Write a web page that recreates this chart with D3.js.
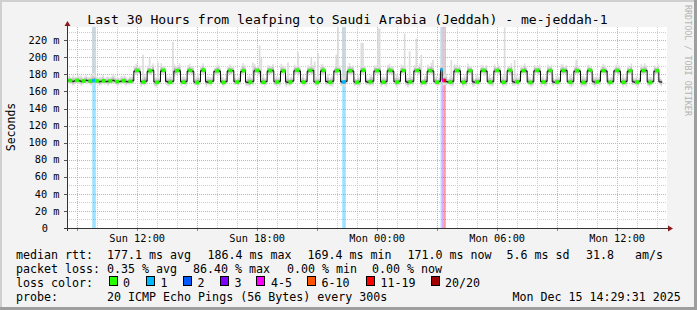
<!DOCTYPE html>
<html><head><meta charset="utf-8">
<script src="https://cdn.jsdelivr.net/npm/d3@7"></script>
<style>body{margin:0;background:#fff}svg{display:block}text{font-family:"DejaVu Sans Mono",monospace;fill:#000}</style>
</head><body><svg id="c" width="697" height="310"></svg>
<script>
// ---------- data ----------
const median = [
172.5,172.8,172.0,171.6,172.3,172.9,173.1,172.4,171.8,172.2,
172.6,173.0,172.7,172.1,171.9,172.5,172.8,172.3,171.7,171.4,
171.9,172.4,172.0,171.5,171.8,172.2,172.6,172.9,172.3,171.6,
171.2,171.5,172.0,172.4,172.1,171.7,171.3,171.8,172.2,172.5,
183.8,184.5,184.0,183.2,171.4,170.9,171.6,172.0,
183.5,184.2,183.9,184.6,171.2,170.6,171.0,171.5,
184.0,184.8,183.6,171.8,171.1,170.7,171.3,171.9,
183.7,184.3,184.9,184.1,171.5,170.8,171.2,171.7,
183.9,184.6,184.2,183.5,170.9,170.4,171.1,171.6,
184.2,185.0,184.4,171.3,170.8,171.0,171.4,172.0,
183.6,184.1,184.7,183.8,171.2,170.5,170.9,171.5,
184.0,184.5,183.9,184.3,171.6,171.0,171.3,171.8,
183.4,184.2,184.8,171.0,170.6,170.9,171.4,171.7,
184.1,184.6,184.0,183.7,171.3,170.7,171.1,171.6,
183.8,184.4,184.9,184.2,171.5,170.9,171.2,171.8,
183.5,184.0,184.6,171.2,170.6,171.0,171.5,172.1,
184.2,184.8,184.3,183.9,171.4,170.8,171.3,171.7,
183.7,184.5,184.1,184.6,171.1,170.5,170.9,171.4,
184.0,184.7,184.2,171.6,171.0,170.7,171.2,171.9,
183.9,184.4,185.0,184.3,171.3,170.9,171.4,171.8,
183.6,184.2,184.6,183.8,171.0,170.6,171.1,171.5,
184.1,184.8,184.4,171.4,170.8,171.2,171.6,172.0,
183.8,184.3,184.9,184.0,171.2,170.7,171.0,171.6,
184.2,184.6,184.1,183.7,171.5,170.9,171.3,171.9,
183.5,184.4,184.8,171.3,170.7,171.1,171.4,171.8,
184.0,184.5,184.2,184.6,171.1,170.6,171.0,171.5,
183.7,184.3,184.7,183.9,171.4,170.8,171.2,171.7,
185.5,173.0,172.8,171.6,171.0,170.9,171.3,171.8,
183.9,184.4,184.8,184.1,171.2,170.6,171.1,171.5,
183.6,184.2,184.7,171.3,170.8,171.0,171.4,171.9,
184.0,184.6,184.3,183.8,171.5,170.9,171.2,171.7,
183.8,184.5,184.9,184.2,171.1,170.7,171.0,171.6,
184.2,184.7,184.1,171.4,170.8,171.1,171.5,172.0,
183.5,184.3,184.8,184.0,171.2,170.6,170.9,171.4,
184.1,184.6,184.2,183.7,171.6,171.0,171.3,171.8,
183.7,184.4,184.9,171.2,170.7,171.0,171.5,171.9,
184.0,184.5,184.1,184.6,171.3,170.8,171.2,171.7,
183.6,184.2,184.7,183.9,171.0,170.5,170.9,171.5,
184.2,184.8,184.3,171.5,170.9,171.1,171.6,172.0,
183.8,184.3,184.6,184.0,171.3,170.7,171.0,171.6,
184.1,184.5,184.0,183.6,171.1,170.6,171.2,171.7,
183.5,184.2,184.8,171.4,170.8,171.0,171.3,171.9,
183.9,184.4,184.1,184.5,171.2,170.6,171.0,171.5,
183.7,184.3,184.0,171.3,171.0,null,null,null
];
const smokeUp = [
5,6,4,7,5,4,6,5,7,4, 5,6,4,5,7,9,8,5,4,6, 5,7,4,5,6,4,5,7,6,4, 5,4,6,5,7,5,4,6,5,8,
6,8,5,7,4,6,9,5,7,6, 4,8,5,6,7,5,9,4,6,8, 5,7,6,4,8,5,6,9,5,7, 6,4,7,8,5,6,4,7,9,5,
6,8,4,5,7,6,5,8,4,6, 7,5,9,6,4,8,5,7,6,5, 8,4,6,7,5,9,6,4,7,8, 5,6,8,4,7,5,6,9,5,4,
7,6,5,8,4,7,6,5,9,6, 4,7,8,5,6,4,7,5,8,6, 5,9,4,6,7,5,8,6,4,7, 6,5,8,7,4,6,9,5,6,7,
4,8,5,6,7,5,4,8,6,9, 5,7,6,4,8,5,7,6,5,8, 4,6,9,5,7,6,4,8,5,7, 6,5,7,8,4,6,5,9,7,5,
8,6,4,7,5,9,6,5,7,4, 6,8,5,4,7,6,8,5,9,6, 5,7,4,8,6,5,7,9,4,6, 7,5,8,6,4,7,5,6,8,5,
9,6,5,7,4,8,6,5,7,6, 4,7,6,9,5,6,8,4,7,5, 6,8,5,7,6,4,9,5,6,8, 5,6,7,4,8,5,7,6,4,9,
7,5,6,8,5,7,4,6,8,5, 6,9,4,7,6,5,8,7,5,6, 4,7,8,5,6,9,5,4,7,8, 6,5,7,6,4,8,6,7,5,9,
5,8,6,4,7,5,6,8,4,7, 7,6,5,9,5,6,7,4,8,6, 5,7,4,6,8,5,9,6,5,7, 6,4,7,5,8,6,4,0,0,0
];
const smokeDown = [
3,4,3,5,4,3,4,3,5,4, 3,4,3,4,5,4,3,4,3,5, 4,3,4,3,5,4,3,4,3,4, 5,3,4,3,4,5,3,4,3,4,
4,5,3,4,6,3,5,4,3,5, 4,3,5,6,4,3,4,5,3,4, 5,4,3,4,6,5,3,4,5,3, 4,6,5,3,4,5,4,3,6,4,
3,5,4,6,3,4,5,3,4,5, 6,4,3,5,4,3,6,4,5,3, 4,3,5,4,6,4,3,5,4,6, 3,5,4,3,5,6,4,3,5,4,
5,4,6,3,4,5,3,6,4,3, 4,6,3,5,4,3,5,4,6,5, 3,4,5,4,6,3,4,5,3,4, 5,3,4,6,4,5,3,4,5,6,
4,5,3,4,5,4,6,3,4,5, 6,4,5,3,4,6,4,5,3,4, 3,5,4,6,3,4,5,4,6,3, 4,6,3,5,4,5,3,6,4,5,
5,3,4,5,6,4,3,5,4,3, 4,5,6,3,4,5,4,3,5,6, 3,4,5,4,3,6,5,4,3,4, 5,6,4,3,5,4,3,6,4,5,
4,3,5,6,4,3,5,4,6,3, 6,4,3,4,5,6,4,3,5,4, 3,5,4,5,3,4,6,5,4,3, 5,4,6,3,4,5,3,4,6,5,
4,3,5,4,6,3,5,6,4,3, 6,5,3,4,5,4,3,5,4,6, 3,4,6,5,3,4,5,3,6,4, 5,6,4,3,5,4,6,4,3,5,
4,3,5,6,4,5,3,4,5,3, 6,4,3,5,4,6,4,5,3,4, 3,5,6,4,3,5,4,3,5,6, 4,3,5,4,6,3,5,0,0,0
];
const spikeIndex = [15,16,45,49,54,63,80,97,111,115,116,132,138,146,148,150,161,162,165,166,176,177,186,187,202,205,209,212,219,224,225,226,230,262,268,305];
const spikeMax   = [235,235,203,199,194,218,189,189,194,214,199,194,206,199,195,205,203,235,235,235,217,217,234,234,228,207,222,203,197,235,235,235,197,235,197,197];
const lossIndex = [15,16,165,166,224,225,226];
const lossPings = [1,1,1,1,1,5,15];
const lossLabels = ["0","1","2","3","4-5","6-10","11-19","20/20"];
const lossColors = ["#26ff00","#00b8ff","#0059ff","#7e00ff","#ff00ff","#ff5500","#ff0000","#a10000"];
const yTicks = [0,20,40,60,80,100,120,140,160,180,200,220];
const yMinor = [10,30,50,70,90,110,130,150,170,190,210,230];
const legendRtt = ["177.1 ms avg","186.4 ms max","169.4 ms min","171.0 ms now","5.6 ms sd","31.8","am/s"];
const legendLoss = ["0.35 % avg","86.40 % max","0.00 % min","0.00 % now"];

// ---------- layout ----------
const svg = d3.select("#c");
const L=67,R=667,T=27,B=228;
const t0 = new Date(2025,11,14,8,29,31), t1 = new Date(2025,11,15,14,29,31);
const x = d3.scaleTime().domain([t0,t1]).range([L,R]);
const y = d3.scaleLinear().domain([0,235.5]).range([B,T]);
const sampleT = i => new Date(2025,11,14,8,30,i*300);
const sx = i => x(sampleT(i));
const stepW = sx(1)-sx(0);
const lossIdx = p => p===0?0:p===1?1:p===2?2:p===3?3:p<=5?4:p<=10?5:p<=19?6:7;

// background & frame
svg.append("rect").attr("width",697).attr("height",310).attr("fill","#f3f3f3");
svg.append("rect").attr("x",0).attr("y",0).attr("width",697).attr("height",2).attr("fill","#cfcfcf");
svg.append("rect").attr("x",0).attr("y",0).attr("width",2).attr("height",310).attr("fill","#cfcfcf");
svg.append("rect").attr("x",694).attr("y",0).attr("width",3).attr("height",310).attr("fill","#9e9e9e");
svg.append("rect").attr("x",0).attr("y",307).attr("width",697).attr("height",3).attr("fill","#9e9e9e");
svg.append("rect").attr("x",L).attr("y",T).attr("width",R-L).attr("height",B-T).attr("fill","#fff");

// grid
const g = svg.append("g").attr("shape-rendering","crispEdges");
yMinor.forEach(v=>{const yy=Math.round(y(v))+0.5;
  g.append("line").attr("x1",L).attr("x2",R).attr("y1",yy).attr("y2",yy).attr("stroke","#cdcdcd").attr("stroke-dasharray","1,1");});
const hours = d3.timeHour.range(t0,t1);
hours.forEach(h=>{ if(h.getHours()%3!==0){const xx=Math.round(x(h))+0.5;
  g.append("line").attr("x1",xx).attr("x2",xx).attr("y1",T).attr("y2",B).attr("stroke","#cdcdcd").attr("stroke-dasharray","1,1");}});
yTicks.slice(1).forEach(v=>{const yy=Math.round(y(v))+0.5;
  g.append("line").attr("x1",L).attr("x2",R).attr("y1",yy).attr("y2",yy).attr("stroke","#f2a0a0").attr("stroke-dasharray","1,1");
  g.append("line").attr("x1",L-3).attr("x2",L).attr("y1",yy).attr("y2",yy).attr("stroke","#555");});
hours.forEach(h=>{ if(h.getHours()%3===0){const xx=Math.round(x(h))+0.5;
  g.append("line").attr("x1",xx).attr("x2",xx).attr("y1",T).attr("y2",B).attr("stroke","#f2a0a0").attr("stroke-dasharray","1,1");
  g.append("line").attr("x1",xx).attr("x2",xx).attr("y1",B).attr("y2",B+3).attr("stroke","#f06060");}});

// loss bars
lossIndex.forEach((i,k)=>{
  svg.append("rect").attr("x",sx(i)).attr("y",T).attr("width",stepW+0.4).attr("height",B-T)
    .attr("fill",lossColors[lossIdx(lossPings[k])]).attr("opacity",0.35);
});

// spikes
spikeIndex.forEach((i,k)=>{
  svg.append("rect").attr("x",sx(i)).attr("width",stepW)
    .attr("y",y(spikeMax[k])).attr("height",y(median[i])-y(spikeMax[k])).attr("fill","#d6d6d6").attr("opacity",0.85);
});

// smoke
const pts = median.map((v,i)=>({i,v,up:smokeUp[i],dn:smokeDown[i]})).filter(d=>d.v!=null);
const lastP = pts[pts.length-1];
const ptsExt = pts.concat([{i:lastP.i+1,v:lastP.v,up:lastP.up,dn:lastP.dn}]);
const band = f => d3.area().curve(d3.curveStepAfter).x(d=>sx(d.i)).y0(d=>y(d.v-d.dn*f)).y1(d=>y(d.v+d.up*f));
svg.append("path").datum(ptsExt).attr("d",band(1)).attr("fill","#e0e0e0");
svg.append("path").datum(ptsExt).attr("d",band(0.55)).attr("fill","#c2c2c2");
svg.append("path").datum(ptsExt).attr("d",band(0.25)).attr("fill","#9a9a9a");

// median line
svg.append("path").datum(ptsExt)
  .attr("d",d3.line().curve(d3.curveStepAfter).x(d=>sx(d.i)).y(d=>y(d.v)))
  .attr("fill","none").attr("stroke","#111").attr("stroke-width",1);
// loss-coloured median marks
pts.forEach(d=>{
  const li = lossIndex.indexOf(d.i);
  if(li>=0){
    svg.append("rect").attr("x",sx(d.i)).attr("y",y(d.v)-1.75).attr("width",stepW+0.5).attr("height",3.5)
      .attr("fill",lossColors[lossIdx(lossPings[li])]);
  } else if(d.i%4===1){
    svg.append("rect").attr("x",sx(d.i)-0.5).attr("y",y(d.v)-1.75).attr("width",4).attr("height",3.5).attr("fill",lossColors[0]);
  }
});

// axes
const ax = svg.append("g").attr("shape-rendering","crispEdges");
ax.append("line").attr("x1",L+0.5).attr("x2",L+0.5).attr("y1",B+3).attr("y2",T-3).attr("stroke","#333");
ax.append("line").attr("x1",L-3).attr("x2",R+2).attr("y1",B+0.5).attr("y2",B+0.5).attr("stroke","#333");
svg.append("path").attr("d",`M${L-2.5},${T-1}L${L+0.5},${T-6}L${L+3.5},${T-1}Z`).attr("fill","#8b1a1a");
svg.append("path").attr("d",`M${R+1},${B-2.5}L${R+6},${B+0.5}L${R+1},${B+3.5}Z`).attr("fill","#8b1a1a");

// y labels
yTicks.forEach(v=>{
  svg.append("text").attr("x",v===0?48:59.5).attr("y",y(v)+3.7).attr("text-anchor","end")
    .attr("font-size","10.3px").text(v===0?"0":v+" m");
});
// x labels
hours.filter(h=>h.getHours()%6===0).forEach(h=>{
  svg.append("text").attr("x",x(h)).attr("y",241.5).attr("text-anchor","middle").attr("font-size","10.3px")
    .text(d3.timeFormat("%a %H:%M")(h));
});

// title & side texts
svg.append("text").attr("x",347.5).attr("y",24).attr("text-anchor","middle").attr("font-size","13.1px")
  .text("Last 30 Hours from leafping to Saudi Arabia (Jeddah) - me-jeddah-1");
svg.append("text").attr("transform","translate(15,127) rotate(-90)").attr("text-anchor","middle")
  .attr("font-size","11.5px").text("Seconds");
svg.append("text").attr("transform","translate(685,5) rotate(90)").attr("font-size","8.4px")
  .style("fill","#b4b4b4").text("RRDTOOL / TOBI OETIKER");

// legend
const fs="11.65px";
const txt=(xx,yy,s)=>svg.append("text").attr("x",xx).attr("y",yy).attr("font-size",fs).attr("xml:space","preserve").text(s);
txt(16,258.5,"median rtt:");
[107,207.5,307.5,407.5,506.5,586,635].forEach((xx,k)=>txt(xx,258.5,legendRtt[k]));
txt(16,272.5,"packet loss:");
[107,193,287,372].forEach((xx,k)=>txt(xx,272.5,legendLoss[k]));
txt(16,286.5,"loss color:");
const boxX=[108.5,145.5,182.5,219.5,256,307,365.5,430.5];
const labX=[123,160.5,197.5,234.5,271,321.5,380.5,445];
lossLabels.forEach((s,k)=>{
  svg.append("rect").attr("x",boxX[k]+0.5).attr("y",276.5).attr("width",8).attr("height",9)
    .attr("fill",lossColors[k]).attr("stroke","#000").attr("stroke-width",1).attr("shape-rendering","crispEdges");
  txt(labX[k],286.5,s);
});
txt(16,300.5,"probe:");
txt(107,300.5,"20 ICMP Echo Pings (56 Bytes) every 300s");
txt(512.5,300.5,"Mon Dec 15 14:29:31 2025");
</script></body></html>
